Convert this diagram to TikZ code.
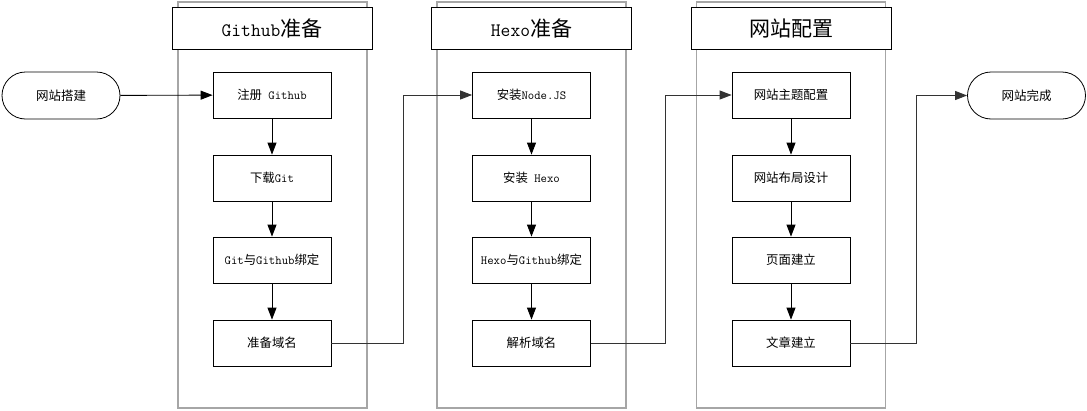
\documentclass[tikz,border=0pt]{standalone}
\usepackage{fontspec}
\newfontfamily\cjk{Noto Sans CJK SC}
\usetikzlibrary{arrows.meta}
\begin{document}
\begin{tikzpicture}[x=1pt,y=-1pt,
  lane/.style={draw=black!35, line width=1.1pt, minimum width=189pt, minimum height=406pt, inner sep=0pt},
  head/.style={draw=black, fill=white, line width=0.8pt, minimum width=200pt, minimum height=42pt, inner sep=0pt, font=\ttfamily\fontsize{19}{22}\selectfont},
  stepbox/.style={draw=black, fill=white, line width=0.8pt, minimum width=118pt, minimum height=46pt, inner sep=0pt, font=\ttfamily\fontsize{12.4}{14}\selectfont},
  term/.style={draw=black, fill=white, line width=0.8pt, rounded corners=23.5pt, minimum width=118pt, minimum height=47pt, inner sep=0pt, font=\fontsize{12.5}{14}\selectfont},
  arr/.style={-{Triangle[length=12pt,width=9pt]}, line width=0.9pt, draw=black},
  link/.style={-{Triangle[length=12pt,width=9pt]}, line width=0.9pt, draw=black!80}
]
\useasboundingbox (0,0) rectangle (1087,410);
\fill[white] (0,0) rectangle (1087,410);

% lanes
\node[lane] (lane1) at (272.5,205) {};
\node[lane] (lane2) at (531.5,205) {};
\node[lane] (lane3) at (791,205) {};

% headers
\node[head] (hd1) at (272,28) {Github{\cjk\fontsize{21}{24}\selectfont 准备}};
\node[head] (hd2) at (531.5,28) {Hexo{\cjk\fontsize{21}{24}\selectfont 准备}};
\node[head] (hd3) at (791,28) {\cjk\fontsize{21}{24}\selectfont 网站配置};

% terminals
\node[term] (start) at (61,95.5) {\cjk 网站搭建};
\node[term] (end) at (1026.5,95.5) {\cjk 网站完成};

% lane 1
\node[stepbox] (g1) at (272,95) {{\cjk 注册} Github};
\node[stepbox] (g2) at (272,178) {{\cjk 下载}Git};
\node[stepbox] (g3) at (272,260) {Git{\cjk 与}Github{\cjk 绑定}};
\node[stepbox] (g4) at (272,343) {\cjk 准备域名};

% lane 2
\node[stepbox] (h1) at (531.5,95) {{\cjk 安装}Node.JS};
\node[stepbox] (h2) at (531.5,178) {{\cjk 安装} Hexo};
\node[stepbox] (h3) at (531.5,260) {Hexo{\cjk 与}Github{\cjk 绑定}};
\node[stepbox] (h4) at (531.5,343) {\cjk 解析域名};

% lane 3
\node[stepbox] (w1) at (791,95) {\cjk 网站主题配置};
\node[stepbox] (w2) at (791,178) {\cjk 网站布局设计};
\node[stepbox] (w3) at (791,260) {\cjk 页面建立};
\node[stepbox] (w4) at (791,343) {\cjk 文章建立};

% vertical arrows
\draw[arr] (g1) -- (g2);
\draw[arr] (g2) -- (g3);
\draw[arr] (g3) -- (g4);
\draw[arr] (h1) -- (h2);
\draw[arr] (h2) -- (h3);
\draw[arr] (h3) -- (h4);
\draw[arr] (w1) -- (w2);
\draw[arr] (w2) -- (w3);
\draw[arr] (w3) -- (w4);

% links
\coordinate (c1) at (403,343);
\coordinate (c2) at (665,343);
\coordinate (c3) at (916,343);
\draw[arr] (start) -- (g1);
\draw[link] (g4.east) -- (c1) |- (h1.west);
\draw[link] (h4.east) -- (c2) |- (w1.west);
\draw[link] (w4.east) -- (c3) |- (end.west);
\end{tikzpicture}
\end{document}
